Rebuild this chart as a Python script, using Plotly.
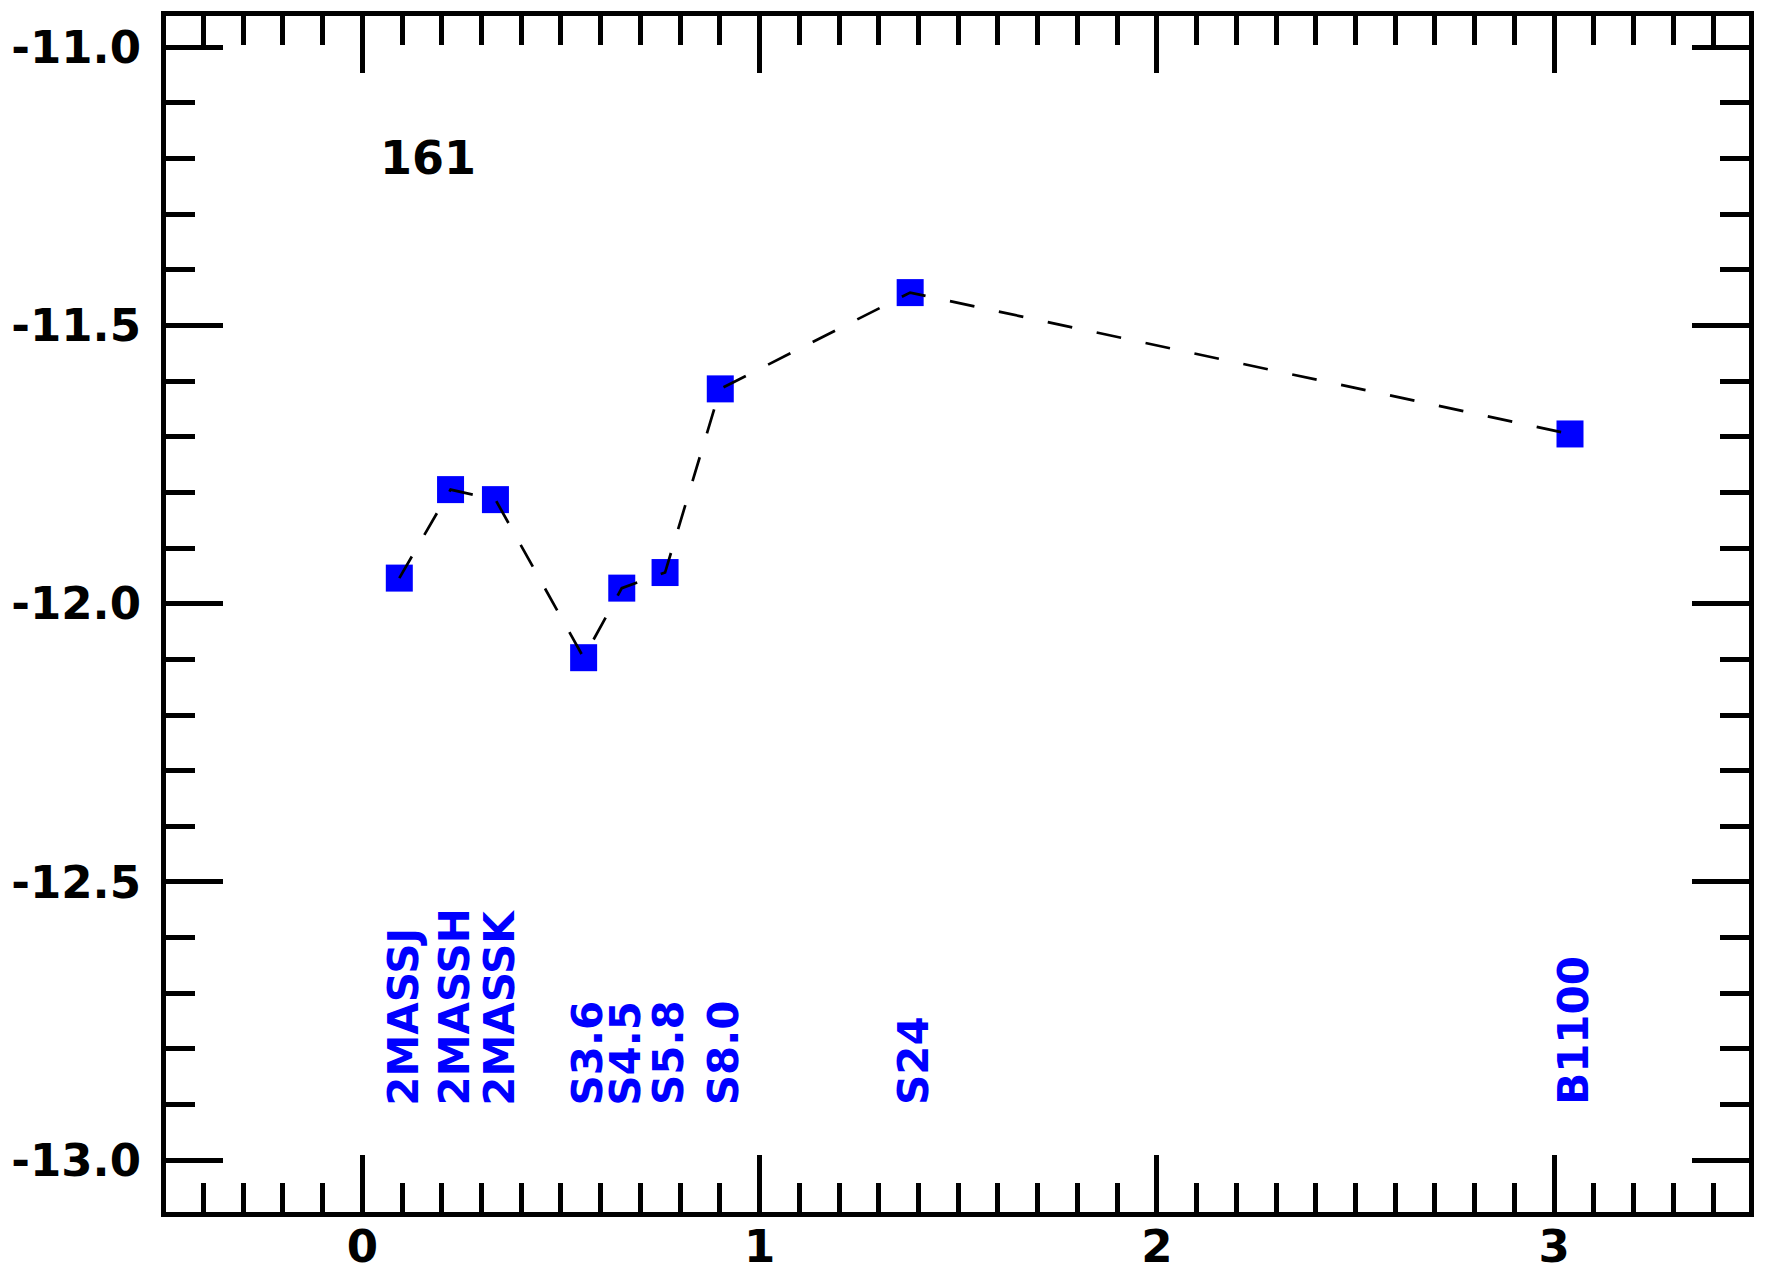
import plotly.graph_objects as go

# log10(wavelength / micron) and log flux for each band
bands = ["2MASSJ", "2MASSH", "2MASSK", "S3.6", "S4.5", "S5.8", "S8.0", "S24", "B1100"]
log_wave = [0.093, 0.222, 0.335, 0.557, 0.653, 0.762, 0.901, 1.379, 3.040]
log_flux = [-11.954, -11.795, -11.813, -12.097, -11.972, -11.944, -11.614, -11.441, -11.695]
source_id = "161"

x_tick_vals = [0, 1, 2, 3]
x_tick_text = ["0", "1", "2", "3"]
y_tick_vals = [-13.0, -12.5, -12.0, -11.5, -11.0]
y_tick_text = ["-13.0", "-12.5", "-12.0", "-11.5", "-11.0"]

FONT = "DejaVu Sans"
BLUE = "#0000ff"

fig = go.Figure()

fig.add_trace(
    go.Scatter(
        x=log_wave,
        y=log_flux,
        mode="markers",
        marker=dict(symbol="square", size=27, color=BLUE, line=dict(width=0)),
        showlegend=False,
    )
)

fig.add_trace(
    go.Scatter(
        x=log_wave,
        y=log_flux,
        mode="lines",
        line=dict(color="black", width=2.7, dash="25px,25px"),
        showlegend=False,
    )
)

# band labels, vertical, along the bottom
for name, xv in zip(bands, log_wave):
    fig.add_annotation(
        x=xv,
        y=-12.905,
        text=name,
        textangle=-90,
        showarrow=False,
        xanchor="center",
        yanchor="bottom",
        xshift=4,
        font=dict(family=FONT, size=42, color=BLUE, weight="bold"),
    )

fig.add_annotation(
    x=0.04,
    y=-11.2,
    text=source_id,
    showarrow=False,
    xanchor="left",
    yanchor="middle",
    font=dict(family=FONT, size=46, color="black", weight="bold"),
)

axis_style = dict(
    showline=True,
    linewidth=5,
    linecolor="black",
    mirror="ticks",
    ticks="inside",
    ticklen=57,
    tickwidth=4.5,
    tickcolor="black",
    showgrid=False,
    zeroline=False,
    automargin=False,
    tickmode="array",
    tickfont=dict(family=FONT, size=45, color="black", weight="bold"),
    minor=dict(ticks="inside", ticklen=29, tickwidth=4.5, tickcolor="black",
               tickmode="linear", dtick=0.1),
)

# ranges trimmed a little because plotly draws the frame just outside the plot area
fig.update_xaxes(range=[-0.4943, 3.4906], tickvals=x_tick_vals, ticktext=x_tick_text,
                 minor_tick0=0, ticklabelstandoff=-9, **axis_style)
fig.update_yaxes(range=[-13.093, -10.944], tickvals=y_tick_vals, ticktext=y_tick_text,
                 minor_tick0=-13, ticklabelstandoff=11, **axis_style)

# the page body adds an 8px offset, so the figure is 8px smaller than the window
fig.update_layout(
    width=1758,
    height=1267,
    margin=dict(l=157.5, r=16.5, t=7.5, b=62.5),
    plot_bgcolor="white",
    paper_bgcolor="white",
)

fig.write_html("out.html")
